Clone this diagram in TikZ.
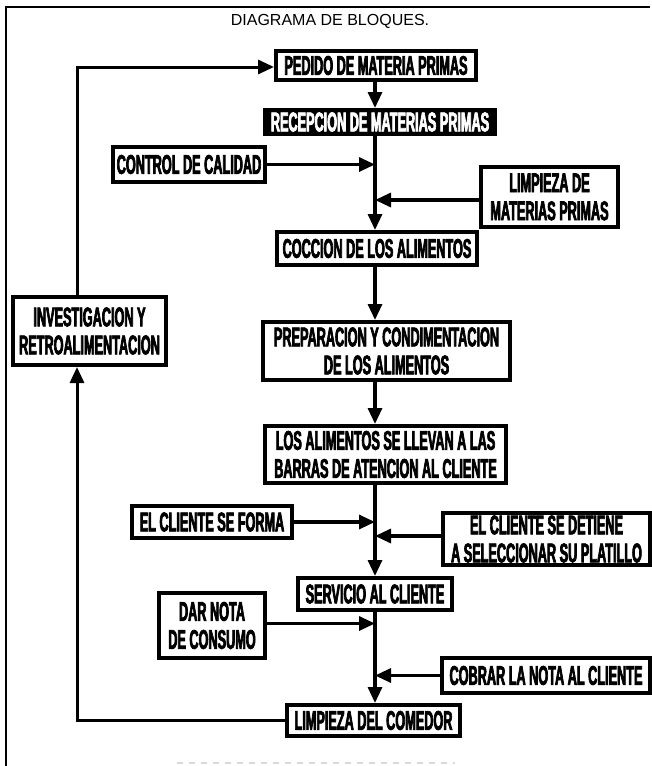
\documentclass[tikz,border=0pt]{standalone}
\usepackage{fontspec}
\setmainfont{Liberation Sans}
\newfontfamily\blockfont{Liberation Sans Bold}[FakeStretch=0.47,FakeBold=2.5]
\usetikzlibrary{arrows.meta,calc}

\begin{document}
\begin{tikzpicture}[x=0.5pt,y=-0.5pt,
  blk/.style={draw,line width=2pt,inner sep=1pt,align=center,font=\blockfont\fontsize{13.5pt}{14pt}\selectfont},
  blkdark/.style={blk,fill=black,text=white},
  flow/.style={line width=1.6pt,-{Triangle[length=8pt,width=7pt]}},
  feed/.style={line width=1.5pt},
  frame/.style={line width=1pt}]
  \useasboundingbox (0,0) rectangle (652,766);
  % Frame and title
  \draw[frame] (5,7) -- (650,7);
  \draw[frame] (6,7) -- (6,766);
  \draw[gray!30,dashed,line width=0.6pt] (177,763) -- (455,763);
  \node[font=\fontsize{8pt}{9pt}\selectfont] (title) at (330,21) {DIAGRAMA DE BLOQUES.};
  % Spine of the flow and feedback line
  \coordinate (spine) at (375,0);
  \coordinate (loop) at (77,0);
  % Blocks
  \node[blk,minimum width=100pt,minimum height=14.5pt] (pedido) at (376,65.5) {PEDIDO DE MATERIA PRIMAS};
  \node[blkdark,minimum width=115pt,minimum height=12pt] (recep) at (380,122) {RECEPCION DE MATERIAS PRIMAS};
  \node[blk,minimum width=76pt,minimum height=17.5pt] (ctrl) at (189,164.5) {CONTROL DE CALIDAD};
  \node[blk,minimum width=68.5pt,minimum height=30pt] (limp) at (549.5,197) {LIMPIEZA DE\\MATERIAS PRIMAS};
  \node[blk,minimum width=100pt,minimum height=16.5pt] (cocc) at (377,248.5) {COCCION DE LOS ALIMENTOS};
  \node[blk,minimum width=76.5pt,minimum height=34pt] (invest) at (89.5,331) {INVESTIGACION Y\\RETROALIMENTACION};
  \node[blk,minimum width=123.5pt,minimum height=29pt] (prep) at (386.5,351) {PREPARACION Y CONDIMENTACION\\DE LOS ALIMENTOS};
  \node[blk,minimum width=120.5pt,minimum height=28.5pt] (alim) at (385.5,454.5) {LOS ALIMENTOS SE LLEVAN A LAS\\BARRAS DE ATENCION AL CLIENTE};
  \node[blk,minimum width=80pt,minimum height=16pt] (forma) at (212,522) {EL CLIENTE SE FORMA};
  \node[blk,minimum width=103.5pt,minimum height=26pt] (detiene) at (546.5,539) {EL CLIENTE SE DETIENE\\A SELECCIONAR SU PLATILLO};
  \node[blk,minimum width=77pt,minimum height=16pt] (serv) at (375,594) {SERVICIO AL CLIENTE};
  \node[blk,minimum width=53pt,minimum height=32.5pt] (nota) at (212,625.5) {DAR NOTA\\DE CONSUMO};
  \node[blk,minimum width=104pt,minimum height=17.5pt] (cobrar) at (546,675.5) {COBRAR LA NOTA AL CLIENTE};
  \node[blk,minimum width=86.5pt,minimum height=15.5pt] (comedor) at (373.5,720.5) {LIMPIEZA DEL COMEDOR};
  % Main flow
  \draw[flow] (spine |- pedido.south) -- (spine |- recep.north);
  \draw[flow] (spine |- recep.south) -- (spine |- cocc.north);
  \draw[flow] (spine |- cocc.south) -- (spine |- prep.north);
  \draw[flow] (spine |- prep.south) -- (spine |- alim.north);
  \draw[flow] (spine |- alim.south) -- (spine |- serv.north);
  \draw[flow] (spine |- serv.south) -- (spine |- comedor.north);
  % Inputs into the flow
  \draw[flow] (ctrl.east) -- (spine |- ctrl.east);
  \draw[flow] ($(limp.west)+(0,3)$) -- (spine |- {$(limp.west)+(0,3)$});
  \draw[flow] (forma.east) -- (spine |- forma.east);
  \draw[flow] ($(detiene.west)+(0,-3)$) -- (spine |- {$(detiene.west)+(0,-3)$});
  \draw[flow] ($(nota.east)+(0,-2)$) -- (spine |- {$(nota.east)+(0,-2)$});
  \draw[flow] (cobrar.west) -- (spine |- cobrar.west);
  % Feedback loop
  \draw[feed,-{Triangle[length=8pt,width=7pt]}] (comedor.west) -- (loop |- comedor.west) -- (loop |- invest.south);
  \draw[feed,-{Triangle[length=8pt,width=7pt]}] (loop |- invest.north) |- ($(pedido.west)+(0,1.5)$);
\end{tikzpicture}
\end{document}
